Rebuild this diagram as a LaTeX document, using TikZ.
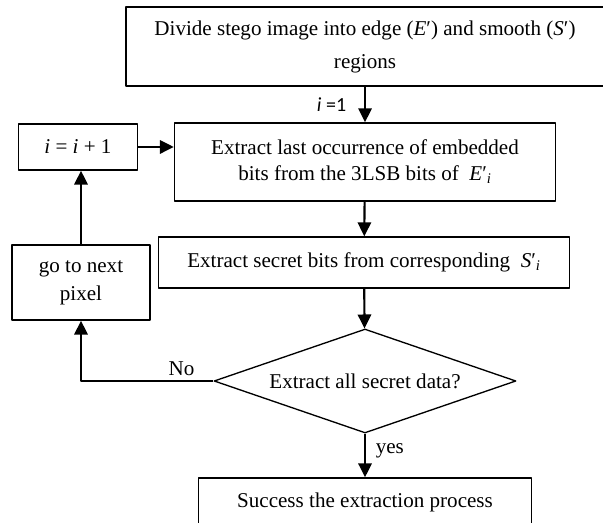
\documentclass[tikz,border=0pt]{standalone}
\usepackage{fontspec}
\setmainfont{Liberation Serif}
\newfontfamily\calibri{Carlito}
\usetikzlibrary{arrows.meta,shapes.geometric}
\tikzset{
	blok/.style={draw,line width=1pt,inner sep=0pt,align=center},
	ro/.style={draw,diamond,line width=1pt,inner sep=0pt,aspect=3},
	mui/.style={line width=1.6pt,-{Triangle[length=10.5pt,width=10pt]}}
}
\begin{document}
\begin{tikzpicture}[x=0.75pt,y=-0.75pt,font=\fontsize{15.8}{19.5}\selectfont,line join=round]
	\useasboundingbox (0,0) rectangle (603,523);
	\clip (0,0) rectangle (603,523);
	\path
	(365,46.5) coordinate (D)
	(365,162) coordinate (L)
	(78,147) coordinate (I)
	(364,262.5) coordinate (S)
	(81,282.5) coordinate (N)
	(365,381) coordinate (K)
	(365,502) coordinate (F)
	;
	\node[blok,minimum width=358.5pt,minimum height=59.25pt] (div) at (D)
	{Divide stego image into edge (\textit{E}′) and smooth (\textit{S}′)\\[5.25pt]regions};
	\node[blok,minimum width=285.75pt,minimum height=58.5pt] (lastbits) at (L)
	{Extract last occurrence of embedded\\bits from the 3LSB bits of \ \textit{E}′\textsubscript{\textit{i}}};
	\node[blok,minimum width=89.25pt,minimum height=34.5pt] (inc) at (I)
	{\textit{i} = \textit{i} + 1};
	\node[blok,minimum width=308.25pt,minimum height=38.25pt] (secret) at (S)
	{Extract secret bits from corresponding \ \textit{S}′\textsubscript{\textit{i}}};
	\node[blok,minimum width=103.5pt,minimum height=56.25pt] (nextpx) at (N)
	{go to next\\[1.5pt]pixel};
	\node[ro,minimum width=226.5pt,minimum height=78pt] (check) at (K)
	{Extract all secret data?};
	\node[blok,minimum width=249.75pt,minimum height=36pt] (done) at (F)
	{Success the extraction process};
	\draw[mui] (div) -- node[left,xshift=-10pt,font=\calibri\fontsize{15}{17}\selectfont]{\textit{i} =1} (lastbits);
	\draw[mui] (inc.east) -- (inc.east-|lastbits.west);
	\draw[mui] (lastbits) -- (secret);
	\draw[mui] (secret) -- (check);
	\draw[mui] (check.west) -| node[pos=0.12,above]{No} (nextpx.south);
	\draw[mui] (nextpx.north) -- (nextpx.north|-inc.south);
	\draw[mui] (check) -- node[right,pos=0.4,xshift=4pt]{yes} (done);
\end{tikzpicture}
\end{document}
